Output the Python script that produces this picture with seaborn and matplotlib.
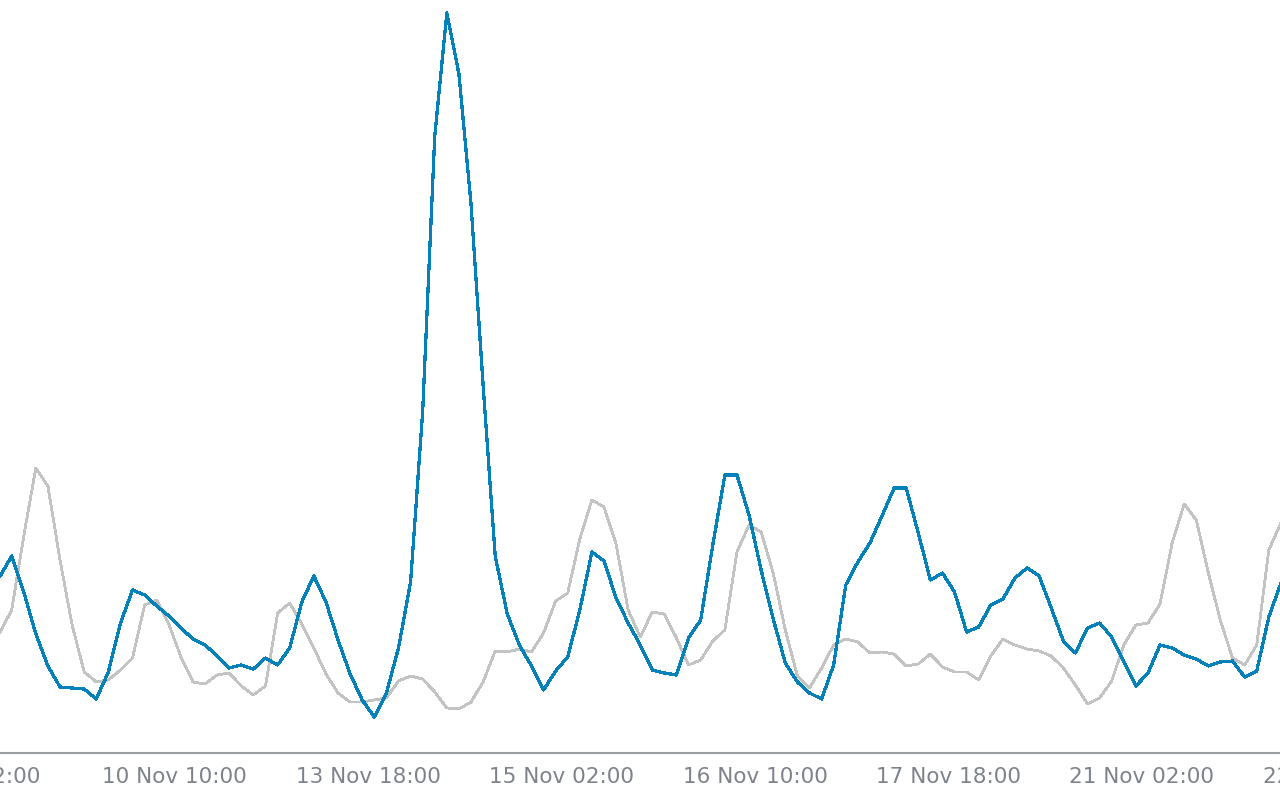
import matplotlib
matplotlib.use("Agg")
import matplotlib.pyplot as plt
import numpy as np
import pandas as pd
import seaborn as sns

# hourly bars, sampled every 2 bars; bar 0 = 9 Nov 02:00
FIRST_BAR = 15
BAR_STEP = 2

BLUE_Y = [
    577, 556, 592, 634, 666, 687, 688, 689, 699, 672,
    623, 590, 595, 606, 616, 628, 639, 645, 656, 668,
    665, 669, 658, 665, 648, 602, 576, 602, 640, 674,
    700, 717, 693, 648, 582, 412, 136, 13, 74, 204,
    385, 556, 614, 645, 666, 690, 671, 657, 610, 552,
    561, 598, 623, 645, 670, 673, 675, 638, 620, 545,
    475, 475, 515, 570, 619, 663, 682, 693, 699, 665,
    585, 562, 543, 516, 488, 488, 533, 580, 573, 592,
    632, 627, 605, 599, 578, 568, 576, 608, 641, 653,
    628, 623, 637, 662, 686, 673, 645, 648, 655, 659,
    666, 662, 661, 677, 671, 617, 583,
]
GREY_Y = [
    633, 610, 536, 468, 486, 560, 625, 672, 682, 680,
    670, 658, 605, 600, 624, 657, 682, 684, 675, 673,
    686, 695, 686, 613, 603, 624, 648, 674, 693, 702,
    702, 700, 698, 681, 676, 679, 692, 708, 709, 702,
    682, 651, 652, 649, 652, 633, 601, 593, 539, 500,
    507, 544, 610, 637, 612, 614, 638, 665, 660, 641,
    630, 552, 525, 532, 573, 630, 676, 688, 668, 645,
    639, 642, 653, 652, 654, 666, 664, 654, 667, 672,
    672, 680, 656, 639, 645, 649, 651, 656, 668, 685,
    704, 698, 681, 645, 625, 623, 604, 543, 504, 520,
    573, 621, 658, 665, 645, 550, 523,
]
BASE = 753
current = [BASE - v for v in BLUE_Y]
previous = [BASE - v for v in GREY_Y]

TICK_BARS = [0, 32, 64, 96, 128, 160, 192, 224]
TICK_LABELS = [
    "9 Nov 02:00", "10 Nov 10:00", "13 Nov 18:00", "15 Nov 02:00",
    "16 Nov 10:00", "17 Nov 18:00", "21 Nov 02:00", "22 Nov 10:00",
]
X_MIN, X_MAX = 15.07, 226.85

BLUE = "#0581b9"
GREY = "#c3c3c3"
AXIS = "#999ca1"
TEXT = "#7d828b"
LABEL_SIZE = 15.5

sns.set_style("white")
plt.rcParams["font.family"] = ["DejaVu Sans"]

df = pd.DataFrame({
    "bar": FIRST_BAR + BAR_STEP * np.arange(len(current)),
    "current": current,
    "previous": previous,
})

fig = plt.figure(figsize=(12.8, 8), dpi=100)
ax = fig.add_axes([0, 47 / 800, 1, 753 / 800])

sns.lineplot(data=df, x="bar", y="previous", color=GREY, linewidth=1.3,
             antialiased=False, ax=ax)
sns.lineplot(data=df, x="bar", y="current", color=BLUE, linewidth=1.6,
             antialiased=False, ax=ax)

visible = [(b, t) for b, t in zip(TICK_BARS, TICK_LABELS) if X_MIN <= b <= X_MAX]
ax.set_xticks([b for b, _ in visible])
ax.set_xticklabels([t for _, t in visible], ha="left", color=TEXT,
                   fontsize=LABEL_SIZE)
ax.tick_params(axis="x", length=6, width=1.1, color=AXIS, pad=4, direction="out")

# labels whose tick lies left of the view still show partly, as in the source
for b, t in zip(TICK_BARS, TICK_LABELS):
    if b < X_MIN:
        ax.annotate(t, xy=(b, 0), xycoords=("data", "axes fraction"),
                    xytext=(0, -6 - 4), textcoords="offset points",
                    ha="left", va="top", color=TEXT, fontsize=LABEL_SIZE,
                    annotation_clip=False)

ax.set_xlim(X_MIN, X_MAX)
ax.set_ylim(0, BASE)
ax.set_xlabel("")
ax.set_ylabel("")
ax.set_yticks([])

for side in ["top", "left", "right"]:
    ax.spines[side].set_visible(False)
ax.spines["bottom"].set_color(AXIS)
ax.spines["bottom"].set_linewidth(1.5)

fig.savefig("out.png", dpi=100)
